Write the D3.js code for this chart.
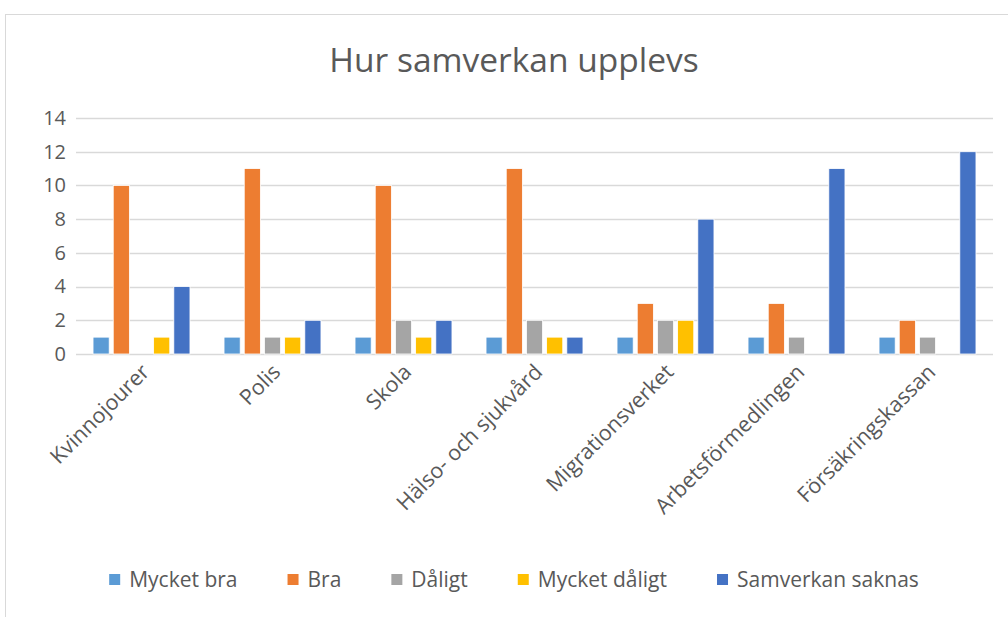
<!DOCTYPE html>
<html>
<head>
<meta charset="utf-8">
<script src="https://cdn.jsdelivr.net/npm/d3@7"></script>
<style>
  body { margin: 0; background: #fff; }
  svg text { font-family: "Open Sans", sans-serif; fill: #595959; }
</style>
</head>
<body>
<div id="chart"></div>
<script>
// data
var categories = ["Kvinnojourer", "Polis", "Skola", "Hälso- och sjukvård",
  "Migrationsverket", "Arbetsförmedlingen", "Försäkringskassan"];
var seriesNames = ["Mycket bra", "Bra", "Dåligt", "Mycket dåligt", "Samverkan saknas"];
var mycketBra    = [1, 1, 1, 1, 1, 1, 1];
var bra          = [10, 11, 10, 11, 3, 3, 2];
var daligt       = [0, 1, 2, 2, 2, 1, 1];
var mycketDaligt = [1, 1, 1, 1, 2, 0, 0];
var saknas       = [4, 2, 2, 1, 8, 11, 12];
var yTicks = [0, 2, 4, 6, 8, 10, 12, 14];
var colors = ["#5B9BD5", "#ED7D31", "#A5A5A5", "#FFC000", "#4472C4"];

var seriesValues = [mycketBra, bra, daligt, mycketDaligt, saknas];

var width = 1008, height = 617;
var margin = {top: 118, right: 15, bottom: 263, left: 76};

var svg = d3.select("#chart").append("svg")
  .attr("width", width)
  .attr("height", height);

//outer chart border
svg.append("rect")
  .attr("x", 5.5).attr("y", 14.5)
  .attr("width", 1030).attr("height", 640)
  .attr("fill", "none")
  .attr("stroke", "#d9d9d9");

var x0 = d3.scaleBand()
  .domain(categories)
  .range([margin.left, width - margin.right])
  .padding(0);

var inset = x0.bandwidth() * 0.13;
var x1 = d3.scaleBand()
  .domain(d3.range(seriesNames.length))
  .range([inset, x0.bandwidth() - inset])
  .paddingInner(0.2);

var y = d3.scaleLinear()
  .domain([0, 14])
  .range([height - margin.bottom, margin.top]);

//gridlines
svg.append("g")
  .selectAll("line")
  .data(yTicks)
  .enter().append("line")
    .attr("x1", margin.left)
    .attr("x2", width - margin.right)
    .attr("y1", function(d) { return Math.round(y(d)) + 0.5; })
    .attr("y2", function(d) { return Math.round(y(d)) + 0.5; })
    .attr("stroke", "#d9d9d9")
    .attr("stroke-width", 1.5);

//y axis labels
var yAxis = d3.axisLeft(y).tickValues(yTicks).tickSize(0).tickPadding(10);
var gy = svg.append("g")
  .attr("transform", "translate(" + margin.left + ",0)")
  .call(yAxis);
gy.select(".domain").remove();
gy.selectAll("text")
  .style("font-size", "20px")
  .attr("fill", "#595959");

//bars
var groups = svg.append("g")
  .selectAll("g")
  .data(categories)
  .enter().append("g")
    .attr("transform", function(d) { return "translate(" + x0(d) + ",0)"; });

groups.selectAll("rect")
  .data(function(d, i) {
    return seriesValues.map(function(vals, s) { return {s: s, v: vals[i]}; });
  })
  .enter().append("rect")
    .filter(function(d) { return d.v > 0; })
    .attr("x", function(d) { return x1(d.s); })
    .attr("y", function(d) { return y(d.v); })
    .attr("width", x1.bandwidth())
    .attr("height", function(d) { return y(0) - y(d.v); })
    .attr("fill", function(d) { return colors[d.s]; })
    .attr("stroke", "#fff")
    .attr("stroke-width", 0.8);

//category labels
var xAxis = d3.axisBottom(x0).tickSize(0).tickPadding(0);
var gx = svg.append("g")
  .attr("transform", "translate(0," + (height - margin.bottom) + ")")
  .call(xAxis);
gx.select(".domain").remove();
gx.selectAll("text")
  .style("font-size", "21.5px")
  .attr("fill", "#595959")
  .style("text-anchor", "end")
  .attr("dy", "0.35em")
  .attr("transform", "translate(4,14) rotate(-45)");

//title
svg.append("text")
  .attr("x", 514)
  .attr("y", 72)
  .attr("text-anchor", "middle")
  .style("font-size", "33.5px")
  .text("Hur samverkan upplevs");

//legend
var legend = svg.append("g");
var items = legend.selectAll("g")
  .data(seriesNames)
  .enter().append("g");
items.append("rect")
  .attr("width", 11).attr("height", 11)
  .attr("y", -13)
  .attr("fill", function(d, i) { return colors[i]; });
items.append("text")
  .attr("x", 20)
  .attr("y", 0)
  .style("font-size", "21px")
  .text(function(d) { return d; });

var pos = 0, gap = 50, offsets = [];
items.each(function() {
  offsets.push(pos);
  pos += this.getBBox().width + gap;
});
var total = pos - gap;
var startX = 514 - total / 2;
items.attr("transform", function(d, i) {
  return "translate(" + (startX + offsets[i]) + ",587)";
});
</script>
</body>
</html>
